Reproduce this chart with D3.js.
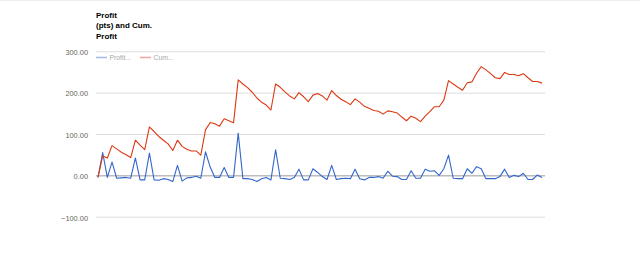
<!DOCTYPE html>
<html>
<head>
<meta charset="utf-8">
<script src="https://cdn.jsdelivr.net/npm/d3@7"></script>
<style>
  html, body { margin: 0; padding: 0; background: #fff; }
  svg { display: block; font-family: Arial, "Liberation Sans", sans-serif; }
</style>
</head>
<body>
<svg id="chart"></svg>
<script>
// values, one per trade
var profit = [
  -5, 55, -5, 32, -7, -6, -5, -7, 42, -11,
  -11, 54, -11, -12, -8, -10, -15, 24, -14, -6,
  -5, -2, -7, 57, 20, -5, -5, 19, -5, -5,
  102, -8, -8, -10, -15, -8, -5, -11, 62, -7,
  -8, -10, -5, 15, -11, -11, 16, 7, -3, -10,
  24, -10, -8, -7, -8, 15, -8, -11, -5, -5,
  -3, -7, 10, -2, -3, -10, -10, 11, -7, -7,
  15, 10, 11, 0, 16, 49, -7, -8, -8, 16,
  5, 21, 16, -8, -8, -8, -3, 15, -5, 0,
  -3, 5, -10, -10, 1, -5
];
var cumProfit = [
  -5, 47, 42, 72, 64, 56, 50, 43, 85, 73,
  62, 117, 106, 94, 85, 76, 60, 85, 70, 63,
  59, 59, 49, 110, 128, 125, 119, 137, 132, 127,
  231, 221, 212, 201, 187, 177, 170, 158, 221, 213,
  202, 192, 185, 200, 190, 178, 194, 198, 192, 182,
  205, 193, 184, 178, 171, 185, 177, 167, 162, 157,
  155, 148, 156, 154, 151, 141, 132, 143, 138, 130,
  143, 154, 166, 166, 182, 229, 221, 213, 206, 224,
  226, 247, 263, 255, 246, 236, 234, 249, 244, 244,
  241, 246, 236, 227, 227, 223
];
var yTicks = [-100, 0, 100, 200, 300];
var titleLines = ["Profit", "(pts) and Cum.", "Profit"];
var seriesNames = ["Profit...", "Cum..."];

var width = 640, height = 268;
var svg = d3.select("#chart").attr("width", width).attr("height", height);

var x = d3.scaleLinear().domain([0, profit.length - 1]).range([98, 542]);
var y = d3.scaleLinear().domain([-100, 300]).range([216.7, 51.3]);

// faint top border
svg.append("line")
  .attr("x1", 0).attr("x2", width).attr("y1", 0.5).attr("y2", 0.5)
  .attr("stroke", "#eeeeee");

// gridlines + labels
var yAxis = d3.axisLeft(y).tickValues(yTicks).tickSize(-449).tickFormat(d3.format(".2f"));
var ga = svg.append("g").attr("transform", "translate(96,0)").call(yAxis);
ga.select(".domain").remove();
ga.selectAll(".tick line")
  .attr("stroke", function(d) { return d === 0 ? "#999999" : "#dddddd"; })
  .attr("stroke-width", 1);
ga.selectAll(".tick text")
  .attr("x", -8).attr("dy", "0.45em")
  .attr("fill", "#6a645c")
  .style("font-size", "7.4px")
  .style("font-family", "Arial, 'Liberation Sans', sans-serif");

var line = d3.line()
  .x(function(d, i) { return x(i); })
  .y(function(d) { return y(d); });

svg.append("path").datum(profit)
  .attr("fill", "none").attr("stroke", "#3366cc").attr("stroke-width", 1.1)
  .attr("stroke-linejoin", "round")
  .attr("d", line);

svg.append("path").datum(cumProfit)
  .attr("fill", "none").attr("stroke", "#dc3912").attr("stroke-width", 1.1)
  .attr("stroke-linejoin", "round")
  .attr("d", line);

// title
svg.append("g").selectAll("text")
  .data(titleLines)
  .enter().append("text")
  .attr("x", 96)
  .attr("y", function(d, i) { return 18 + i * 10.4; })
  .attr("fill", "#000")
  .style("font-weight", "bold")
  .style("font-size", "8px")
  .text(function(d) { return d; });

// legend
var legendColors = ["#a9bbea", "#f0a9a4"];
var lg = svg.append("g").selectAll("g")
  .data(seriesNames)
  .enter().append("g")
  .attr("transform", function(d, i) { return "translate(" + (96 + i * 44) + ",57.5)"; });
lg.append("line")
  .attr("x1", 0).attr("x2", 11).attr("y1", 0).attr("y2", 0)
  .attr("stroke", function(d, i) { return legendColors[i]; })
  .attr("stroke-width", 1.6);
lg.append("text")
  .attr("x", 13.5).attr("y", 2.4)
  .attr("fill", "#a8a8a8")
  .style("font-size", "6.8px")
  .text(function(d) { return d; });
</script>
</body>
</html>
